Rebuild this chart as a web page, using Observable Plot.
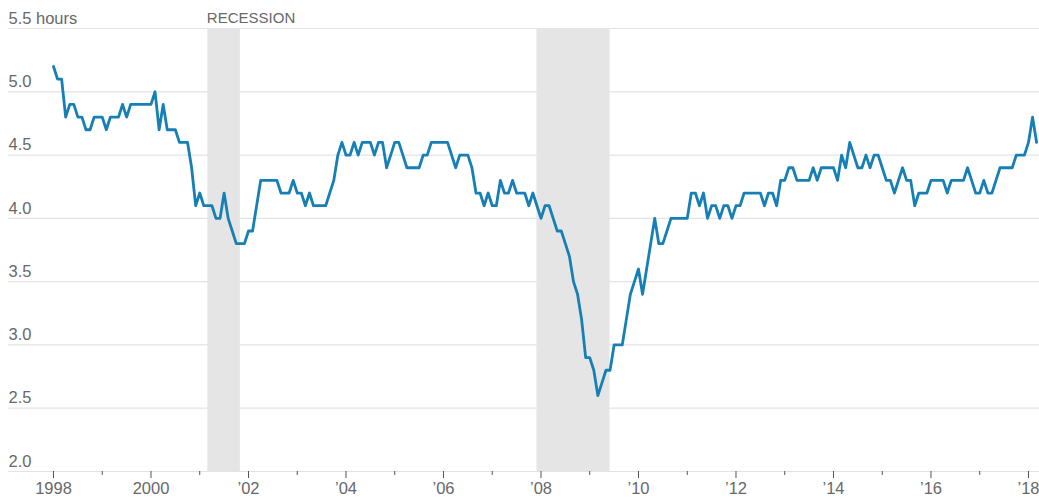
<!DOCTYPE html>
<html>
<head>
<meta charset="utf-8">
<script src="https://cdn.jsdelivr.net/npm/d3@7"></script>
<script src="https://cdn.jsdelivr.net/npm/@observablehq/plot@0.6"></script>
<style>
  html, body { margin: 0; padding: 0; background: #fff; }
  #chart svg { display: block; }
</style>
</head>
<body>
<div id="chart"></div>
<script>
// Monthly values, starting January 1998 (hours)
const firstYear = 1998;
const hours = [
  // 1998
  5.2, 5.1, 5.1, 4.8, 4.9, 4.9, 4.8, 4.8, 4.7, 4.7, 4.8, 4.8,
  // 1999
  4.8, 4.7, 4.8, 4.8, 4.8, 4.9, 4.8, 4.9, 4.9, 4.9, 4.9, 4.9,
  // 2000
  4.9, 5.0, 4.7, 4.9, 4.7, 4.7, 4.7, 4.6, 4.6, 4.6, 4.4, 4.1,
  // 2001
  4.2, 4.1, 4.1, 4.1, 4.0, 4.0, 4.2, 4.0, 3.9, 3.8, 3.8, 3.8,
  // 2002
  3.9, 3.9, 4.1, 4.3, 4.3, 4.3, 4.3, 4.3, 4.2, 4.2, 4.2, 4.3,
  // 2003
  4.2, 4.2, 4.1, 4.2, 4.1, 4.1, 4.1, 4.1, 4.2, 4.3, 4.5, 4.6,
  // 2004
  4.5, 4.5, 4.6, 4.5, 4.6, 4.6, 4.6, 4.5, 4.6, 4.6, 4.4, 4.5,
  // 2005
  4.6, 4.6, 4.5, 4.4, 4.4, 4.4, 4.4, 4.5, 4.5, 4.6, 4.6, 4.6,
  // 2006
  4.6, 4.6, 4.5, 4.4, 4.5, 4.5, 4.5, 4.4, 4.2, 4.2, 4.1, 4.2,
  // 2007
  4.1, 4.1, 4.3, 4.2, 4.2, 4.3, 4.2, 4.2, 4.2, 4.1, 4.2, 4.1,
  // 2008
  4.0, 4.1, 4.1, 4.0, 3.9, 3.9, 3.8, 3.7, 3.5, 3.4, 3.2, 2.9,
  // 2009
  2.9, 2.8, 2.6, 2.7, 2.8, 2.8, 3.0, 3.0, 3.0, 3.2, 3.4, 3.5,
  // 2010
  3.6, 3.4, 3.6, 3.8, 4.0, 3.8, 3.8, 3.9, 4.0, 4.0, 4.0, 4.0,
  // 2011
  4.0, 4.2, 4.2, 4.1, 4.2, 4.0, 4.1, 4.1, 4.0, 4.1, 4.1, 4.0,
  // 2012
  4.1, 4.1, 4.2, 4.2, 4.2, 4.2, 4.2, 4.1, 4.2, 4.2, 4.1, 4.3,
  // 2013
  4.3, 4.4, 4.4, 4.3, 4.3, 4.3, 4.3, 4.4, 4.3, 4.4, 4.4, 4.4,
  // 2014
  4.4, 4.3, 4.5, 4.4, 4.6, 4.5, 4.4, 4.4, 4.5, 4.4, 4.5, 4.5,
  // 2015
  4.4, 4.3, 4.3, 4.2, 4.3, 4.4, 4.3, 4.3, 4.1, 4.2, 4.2, 4.2,
  // 2016
  4.3, 4.3, 4.3, 4.3, 4.2, 4.3, 4.3, 4.3, 4.3, 4.4, 4.3, 4.2,
  // 2017
  4.2, 4.3, 4.2, 4.2, 4.3, 4.4, 4.4, 4.4, 4.4, 4.5, 4.5, 4.5,
  // 2018
  4.6, 4.8, 4.6
];

// Recessions (year + month offset)
const recessionStart = [2001 + 2/12, 2007 + 11/12];
const recessionEnd   = [2001 + 10/12, 2009 + 5/12];

const yTicks = [2.0, 2.5, 3.0, 3.5, 4.0, 4.5, 5.0, 5.5];
const yTickLabels = ["2.0", "2.5", "3.0", "3.5", "4.0", "4.5", "5.0", "5.5 hours"];
const majorYears = [1998, 2000, 2002, 2004, 2006, 2008, 2010, 2012, 2014, 2016, 2018];
const minorYears = [1999, 2001, 2003, 2005, 2007, 2009, 2011, 2013, 2015, 2017];
const majorLabels = ["1998", "2000", "\u201902", "\u201904", "\u201906", "\u201908", "\u201910", "\u201912", "\u201914", "\u201916", "\u201918"];

const series = hours.map((v, i) => ({t: firstYear + i / 12, v}));
const recessions = recessionStart.map((s, i) => ({s, e: recessionEnd[i]}));
const yLabelRows = yTicks.map((v, i) => ({v, label: yTickLabels[i]}));

const xDomain = [1997.077, 2018.226];
const gray = "#686868";
const font = "'Liberation Sans', Arial, sans-serif";

const chart = Plot.plot({
  width: 1039,
  height: 501,
  marginTop: 28,
  marginBottom: 30,
  marginLeft: 8,
  marginRight: 0,
  style: {fontFamily: font, fontSize: "16px", color: gray, background: "#fff"},
  x: {domain: xDomain, axis: null},
  y: {domain: [2.0, 5.5], axis: null},
  marks: [
    Plot.ruleY(yTicks, {stroke: "#e3e3e3", strokeWidth: 1.2}),
    Plot.rectX(recessions, {x1: "s", x2: "e", y1: 2.0, y2: 5.5, fill: "#e5e5e5"}),
    Plot.text(yLabelRows, {
      x: xDomain[0], y: "v", text: "label", textAnchor: "start",
      dy: -10, fill: gray, fontSize: 16.5
    }),
    Plot.text(["RECESSION"], {
      x: recessionStart[0], y: 5.5, textAnchor: "start", dx: -1,
      dy: -10, fill: gray, fontSize: 15
    }),
    Plot.axisX(majorYears, {
      tickSize: 7, tickPadding: 4, stroke: "#555", fill: gray,
      fontSize: 16.5, tickFormat: (d) => majorLabels[majorYears.indexOf(d)]
    }),
    Plot.axisX(minorYears, {
      tickSize: 4, stroke: "#555", tickFormat: () => ""
    }),
    Plot.line(series, {
      x: "t", y: "v", stroke: "#167fb6", strokeWidth: 2.8,
      strokeLinejoin: "round", strokeLinecap: "round"
    })
  ]
});

document.getElementById("chart").appendChild(chart);
</script>
</body>
</html>
